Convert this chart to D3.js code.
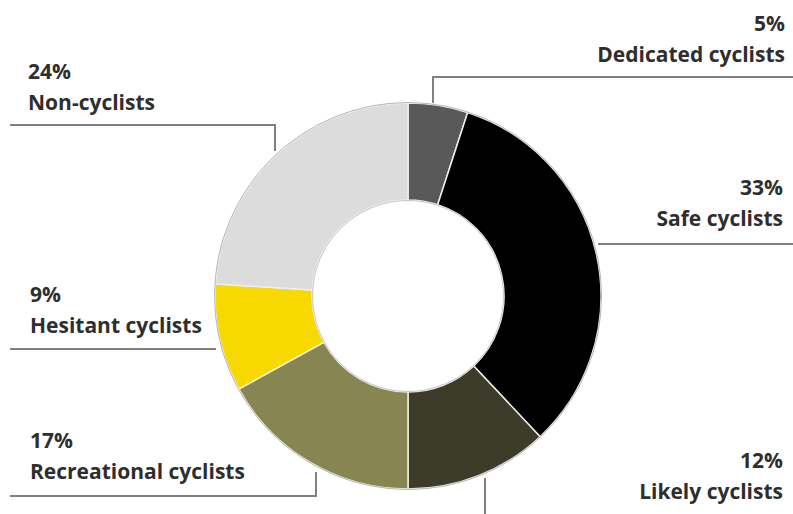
<!DOCTYPE html>
<html><head><meta charset="utf-8">
<script src="https://cdn.jsdelivr.net/npm/d3@7"></script>
<style>body{margin:0;background:#fff}svg{display:block}</style>
</head><body>
<svg id="chart" width="793" height="514"></svg>
<script>
const categories = ["Dedicated cyclists","Safe cyclists","Likely cyclists","Recreational cyclists","Hesitant cyclists","Non-cyclists"];
const values = [5,33,12,17,9,24];
const colors = ["#595959","#000000","#3d3b29","#878653","#f7d800","#dcdcdc"];

const svg = d3.select("#chart");
const cx = 408, cy = 296, rOuter = 193, rInner = 96;
const g = svg.append("g").attr("transform", `translate(${cx},${cy})`);
const pie = d3.pie().sort(null).value(d => d)(values);
const arc = d3.arc().innerRadius(rInner).outerRadius(rOuter);
g.selectAll("path").data(pie).join("path")
  .attr("d", arc)
  .attr("fill", (d,i) => colors[i])
  .attr("stroke", "#f0efe6").attr("stroke-width", 1.5);
g.append("circle").attr("r", rOuter+0.5).attr("fill","none").attr("stroke","#b8b8b8").attr("stroke-width",1);
g.append("circle").attr("r", rInner-0.5).attr("fill","none").attr("stroke","#c8c8c8").attr("stroke-width",1);

const layout = [
  {line:[[433,103],[433,77],[793,77]], x:785, y:31, anchor:"end"},
  {line:[[598,244],[793,244]], x:783, y:195, anchor:"end"},
  {line:[[485,478],[485,514]], x:783, y:468, anchor:"end"},
  {line:[[316,472],[316,496],[10,496]], x:30, y:448, anchor:"start"},
  {line:[[216,349],[10,349]], x:30, y:302, anchor:"start"},
  {line:[[10,125],[275,125],[275,151]], x:28, y:79, anchor:"start"}
];
const lg = svg.append("g");
layout.forEach((L,i) => {
  lg.append("path").attr("d", d3.line()(L.line)).attr("fill","none")
    .attr("stroke","#808080").attr("stroke-width",2);
  const t = lg.append("text").attr("x",L.x).attr("y",L.y).attr("text-anchor",L.anchor)
    .attr("font-family","'Open Sans', sans-serif").attr("font-weight","bold")
    .attr("font-size",21).attr("fill","#2e2e2e");
  t.append("tspan").attr("x",L.x).text(values[i] + "%");
  t.append("tspan").attr("x",L.x).attr("dy",31).text(categories[i]);
});
</script>
</body></html>
